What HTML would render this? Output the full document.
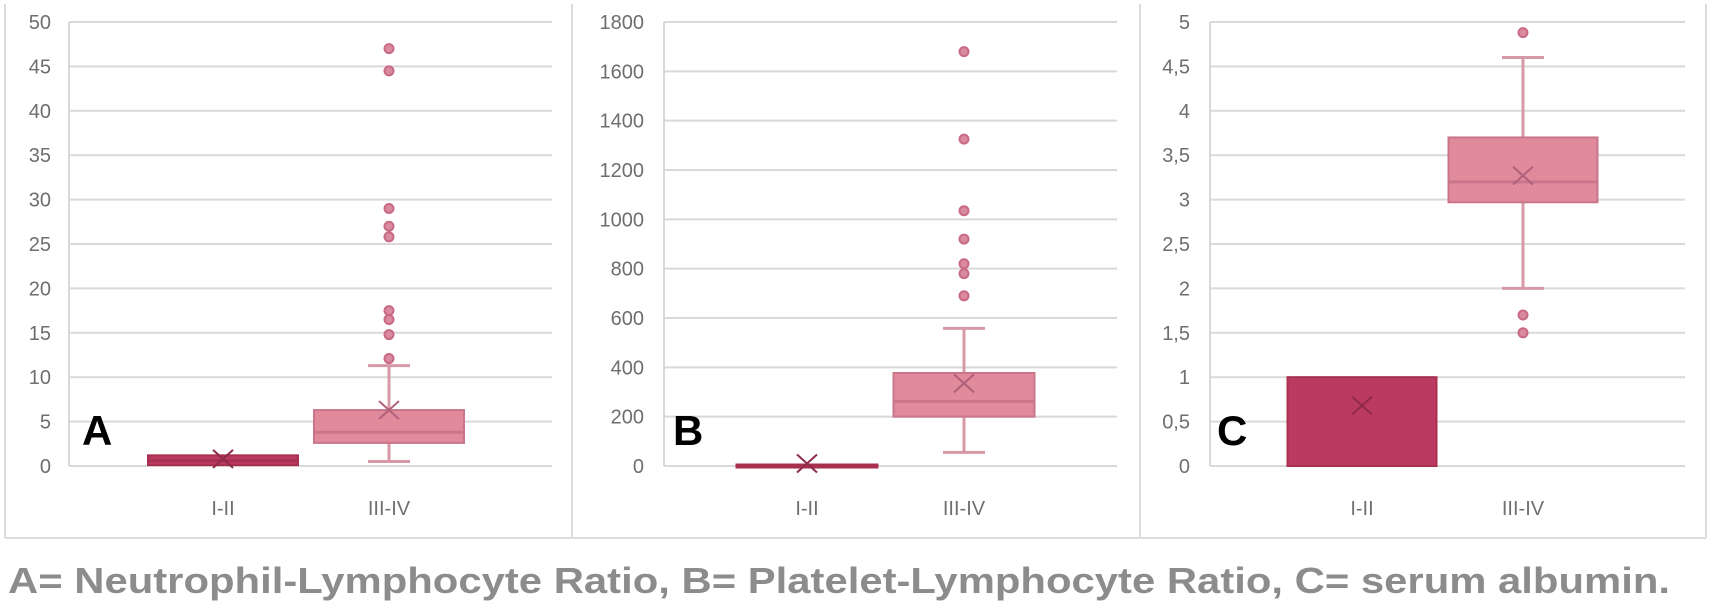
<!DOCTYPE html>
<html><head><meta charset="utf-8"><style>
html,body{margin:0;padding:0;background:#fff;}
svg{display:block;}
</style></head><body>
<svg id="chart" width="1713" height="609" viewBox="0 0 1713 609" xmlns="http://www.w3.org/2000/svg">
<g stroke="#dcdcdc" stroke-width="2" fill="none">
<line x1="5" y1="4" x2="5" y2="538"/>
<line x1="572" y1="4" x2="572" y2="538"/>
<line x1="1140" y1="4" x2="1140" y2="538"/>
<line x1="1706" y1="4" x2="1706" y2="538"/>
<line x1="5" y1="538" x2="1706" y2="538"/>
</g>
<g id="plots"></g>
<text x="8" y="593" font-family="Liberation Sans, Arial, sans-serif" font-weight="bold" font-size="36" fill="#8c8c8c" textLength="1662" lengthAdjust="spacingAndGlyphs">A= Neutrophil-Lymphocyte Ratio, B= Platelet-Lymphocyte Ratio, C= serum albumin.</text>
</svg>
<script>
// Panel A: Neutrophil-Lymphocyte Ratio
const categories = ["I-II", "III-IV"];
const ticksA = ["0","5","10","15","20","25","30","35","40","45","50"];
const ticksB = ["0","200","400","600","800","1000","1200","1400","1600","1800"];
const ticksC = ["0","0,5","1","1,5","2","2,5","3","3,5","4","4,5","5"];
const maxA = 50, stepA = 5;
const maxB = 1800, stepB = 200;
const maxC = 5, stepC = 0.5;
// [min, q1, median, q3, max, mean]
const boxA1 = [0.1, 0.1, 0.6, 1.2, 1.2, 0.8];
const boxA2 = [0.5, 2.6, 3.8, 6.3, 11.3, 6.3];
const outliersA2 = [47, 44.5, 29, 27, 25.8, 17.5, 16.5, 14.8, 12.1];
const boxB1 = [0, 0, 3, 6, 6, 10];
const boxB2 = [55, 200, 262, 377, 558, 335];
const outliersB2 = [1680, 1325, 1035, 920, 820, 780, 690];
const boxC1 = [0, 0, 0, 1.0, 1.0, 0.68];
const boxC2 = [2.0, 2.97, 3.2, 3.7, 4.6, 3.27];
const outliersC2 = [4.88, 1.7, 1.5];

const NS = "http://www.w3.org/2000/svg";
const root = document.getElementById("plots");
const TOP = 22, BOT = 466;
function mk(tag, attrs, parent){const e=document.createElementNS(NS,tag);for(const k in attrs)e.setAttribute(k,attrs[k]);parent.appendChild(e);return e;}

const panels = [
 {id:"a", letter:"A", letterX:82, labelR:51, gx0:69, gx1:552, centers:[223,389], bw:150, ticks:ticksA, max:maxA, step:stepA, boxes:[boxA1,boxA2], outs:outliersA2},
 {id:"b", letter:"B", letterX:673, labelR:644, gx0:664, gx1:1117, centers:[807,964], bw:141, ticks:ticksB, max:maxB, step:stepB, boxes:[boxB1,boxB2], outs:outliersB2},
 {id:"c", letter:"C", letterX:1217, labelR:1190, gx0:1210, gx1:1685, centers:[1362,1523], bw:149, ticks:ticksC, max:maxC, step:stepC, boxes:[boxC1,boxC2], outs:outliersC2}
];

panels.forEach(p=>{
  const y = v => BOT - v/p.max*(BOT-TOP);
  const g = mk("g",{},root);
  
  
  // grid and ticks
  p.ticks.forEach((t,i)=>{
    const yy = y(i*p.step);
    const l = mk("line",{x1:p.gx0,x2:p.gx1,y1:yy,y2:yy,stroke:"#d9d9d9","stroke-width":2},g);
    
    
    const tx = mk("text",{x:p.labelR,y:yy+7,"text-anchor":"end","font-family":"Liberation Sans, Arial, sans-serif","font-size":20,fill:"#6e6e6e"},g);
    tx.textContent = t;
    
    
  });
  const ax = mk("line",{x1:p.gx0,x2:p.gx0,y1:TOP,y2:BOT,stroke:"#d9d9d9","stroke-width":2},g);
  
  
  // letter
  const lt = mk("text",{x:p.letterX,y:445,"font-family":"Liberation Sans, Arial, sans-serif","font-weight":"bold","font-size":42,fill:"#000"},g);
  lt.textContent = p.letter;
  
  
  // boxes
  p.boxes.forEach((b,i)=>{
    const cx = p.centers[i];
    const dark = i===0;
    const fill = dark ? "#bb3a62" : "#e08a9c";
    const edge = dark ? "#a8304f" : "#c9768b";
    const wcol = "#d799a7";
    const bg = mk("g",{},g);
    
    
    // whiskers
    if (b[4] > b[3]) {
      mk("line",{x1:cx,x2:cx,y1:y(b[3]),y2:y(b[4]),stroke:wcol,"stroke-width":3},bg);
      mk("line",{x1:cx-21,x2:cx+21,y1:y(b[4]),y2:y(b[4]),stroke:wcol,"stroke-width":3},bg);
    }
    if (b[1] > b[0]) {
      mk("line",{x1:cx,x2:cx,y1:y(b[1]),y2:y(b[0]),stroke:wcol,"stroke-width":3},bg);
      mk("line",{x1:cx-21,x2:cx+21,y1:y(b[0]),y2:y(b[0]),stroke:wcol,"stroke-width":3},bg);
    }
    const h = Math.max(y(b[1])-y(b[3]), 3);
    const r = mk("rect",{x:cx-p.bw/2,y:y(b[3]),width:p.bw,height:h,fill:fill,stroke:edge,"stroke-width":2},bg);
    
    
    if (b[2] > b[1]) {
      const m = mk("line",{x1:cx-p.bw/2,x2:cx+p.bw/2,y1:y(b[2]),y2:y(b[2]),stroke:edge,"stroke-width":3},bg);
      
      
    }
    const my = y(b[5]);
    const mc = dark ? "#8f2a4a" : "#b0607a";
    const mg = mk("g",{stroke:mc,"stroke-width":2},bg);
    
    
    mk("line",{x1:cx-10,y1:my-9,x2:cx+10,y2:my+9},mg);
    mk("line",{x1:cx-10,y1:my+9,x2:cx+10,y2:my-9},mg);
  });
  p.outs.forEach(v=>{
    const c = mk("circle",{cx:p.centers[1],cy:y(v),r:4.5,fill:"#d98a9e",stroke:"#c96a84","stroke-width":2},g);
    
    
  });
  categories.forEach((c,i)=>{
    const t = mk("text",{x:p.centers[i],y:515,"text-anchor":"middle","font-family":"Liberation Sans, Arial, sans-serif","font-size":20,fill:"#707070"},g);
    t.textContent = c;
    
    
  });
});
</script>
</body></html>
